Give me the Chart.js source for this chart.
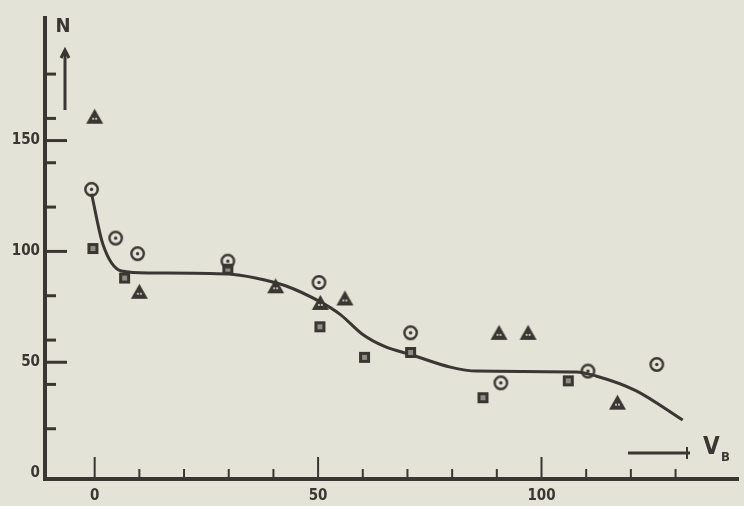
<!DOCTYPE html>
<html>
<head>
<meta charset="utf-8">
<script src="https://cdn.jsdelivr.net/npm/chart.js@4.4.1/dist/chart.umd.min.js"></script>
<style>
  html, body { margin: 0; padding: 0; background: #e3e3d7; }
  #wrap { width: 744px; height: 506px; }
</style>
</head>
<body>
<div id="wrap"><canvas id="chart" width="744" height="506"></canvas></div>
<script>
// valores
const triX = [0, 10, 40.5, 50.5, 56, 90.5, 97, 117];
const triY = [161, 82, 84.5, 77, 79, 63.5, 63.5, 32];

const circX = [-0.7, 4.7, 9.6, 29.8, 50.2, 70.7, 90.9, 110.4, 125.8];
const circY = [128, 106, 99, 95.6, 86, 63.3, 40.7, 46, 49];

const sqX = [-0.4, 6.7, 29.8, 50.4, 60.4, 70.7, 86.9, 106];
const sqY = [101.3, 88, 92, 66, 52.2, 54.4, 34, 41.6];

// curva ajustada (desenhada à mão no original)
const curveX = [-0.7, 1.8, 6, 12.2, 30, 36, 42.7, 50.7, 55, 60, 65, 70.7, 79.6, 85.6, 107.8, 112.2, 121.1, 131.6];
const curveY = [126, 103.5, 91.2, 90.3, 89.8, 88, 84.5, 77, 71.5, 62.5, 57, 53.5, 47.8, 46, 45.6, 43.8, 37.2, 23.9];

// marcas dos eixos
const xLabelTicks = [0, 50, 100];
const xMinorTicks = [10, 20, 30, 40, 60, 70, 80, 90, 110, 120, 130];
const yLabelTicks = [0, 50, 100, 150];
const yMinorTicks = [20, 40, 60, 80, 120, 140, 160, 180];

const INK = 'rgb(58,54,50)';
const PAPER = '#e3e3d7';

function pts(xs, ys) {
    return xs.map((x, i) => ({ x: x, y: ys[i] }));
}

// símbolos dos pontos
function makeTriangle() {
    const c = document.createElement('canvas');
    c.width = 19; c.height = 17;
    const g = c.getContext('2d');
    g.fillStyle = INK;
    g.beginPath();
    g.moveTo(9.5, 1); g.lineTo(18, 16); g.lineTo(1, 16);
    g.closePath(); g.fill();
    g.fillStyle = 'rgba(220,220,205,0.8)';
    g.fillRect(7, 10, 2, 2);
    g.fillRect(10, 10, 2, 2);
    return c;
}

function makeCircle() {
    const c = document.createElement('canvas');
    c.width = 17; c.height = 17;
    const g = c.getContext('2d');
    g.strokeStyle = INK;
    g.lineWidth = 2.4;
    g.beginPath(); g.arc(8.5, 8.5, 6.2, 0, Math.PI * 2); g.stroke();
    g.fillStyle = INK;
    g.beginPath(); g.arc(8.5, 8.5, 1.7, 0, Math.PI * 2); g.fill();
    return c;
}

function makeSquare() {
    const c = document.createElement('canvas');
    c.width = 13; c.height = 13;
    const g = c.getContext('2d');
    g.fillStyle = INK;
    g.fillRect(1, 1, 11, 11);
    g.fillStyle = 'rgba(200,200,185,0.6)';
    g.fillRect(4, 4, 5, 5);
    return c;
}

const axesPlugin = {
    id: 'axesPlugin',
    afterDraw(chart) {
        const ctx = chart.ctx;
        const xs = chart.scales.x;
        const ys = chart.scales.y;
        const area = chart.chartArea;
        const x0 = area.left - 2;
        const y0 = area.bottom;

        ctx.save();
        ctx.strokeStyle = INK;
        ctx.fillStyle = INK;
        ctx.lineCap = 'butt';

        // eixos
        ctx.lineWidth = 4;
        ctx.beginPath();
        ctx.moveTo(x0, area.top);
        ctx.lineTo(x0, y0 + 2);
        ctx.lineTo(area.right, y0 + 2);
        ctx.stroke();

        // marcas do eixo x
        ctx.lineWidth = 2;
        xLabelTicks.forEach(v => {
            const px = xs.getPixelForValue(v);
            ctx.beginPath(); ctx.moveTo(px, y0); ctx.lineTo(px, y0 - 20); ctx.stroke();
        });
        xMinorTicks.forEach(v => {
            const px = xs.getPixelForValue(v);
            ctx.beginPath(); ctx.moveTo(px, y0); ctx.lineTo(px, y0 - 8); ctx.stroke();
        });

        // marcas do eixo y
        ctx.lineWidth = 3;
        yLabelTicks.filter(v => v > 0).forEach(v => {
            const py = ys.getPixelForValue(v);
            ctx.beginPath(); ctx.moveTo(x0, py); ctx.lineTo(x0 + 22, py); ctx.stroke();
        });
        yMinorTicks.forEach(v => {
            const py = ys.getPixelForValue(v);
            ctx.beginPath(); ctx.moveTo(x0, py); ctx.lineTo(x0 + 11, py); ctx.stroke();
        });

        // seta e rótulo N
        ctx.lineWidth = 3;
        ctx.beginPath(); ctx.moveTo(65, 110); ctx.lineTo(65, 52); ctx.stroke();
        ctx.beginPath(); ctx.moveTo(61, 58); ctx.lineTo(65, 50); ctx.lineTo(69, 58); ctx.stroke();
        ctx.font = 'bold 20px "DejaVu Sans Condensed", "DejaVu Sans"';
        ctx.textAlign = 'center';
        ctx.textBaseline = 'middle';
        ctx.fillText('N', 63, 27);

        // seta e rótulo V_B
        ctx.lineWidth = 3;
        ctx.beginPath(); ctx.moveTo(628, 453); ctx.lineTo(690, 453); ctx.stroke();
        ctx.lineWidth = 2;
        ctx.beginPath(); ctx.moveTo(687, 447); ctx.lineTo(687, 459); ctx.stroke();
        ctx.font = 'bold 24px "DejaVu Sans Condensed", "DejaVu Sans"';
        ctx.textAlign = 'left';
        ctx.fillText('V', 703, 448);
        ctx.font = 'bold 13px "DejaVu Sans Condensed", "DejaVu Sans"';
        ctx.fillText('B', 721, 458);

        ctx.restore();
    }
};

const canvas = document.getElementById('chart');
const ctx = canvas.getContext('2d');

new Chart(ctx, {
    type: 'scatter',
    data: {
        datasets: [
            {
                label: 'curva',
                data: pts(curveX, curveY),
                showLine: true,
                borderColor: INK,
                borderWidth: 3,
                pointRadius: 0,
                cubicInterpolationMode: 'monotone',
                order: 4
            },
            {
                label: 'triângulos',
                data: pts(triX, triY),
                pointStyle: makeTriangle(),
                order: 1
            },
            {
                label: 'círculos',
                data: pts(circX, circY),
                pointStyle: makeCircle(),
                order: 2
            },
            {
                label: 'quadrados',
                data: pts(sqX, sqY),
                pointStyle: makeSquare(),
                order: 3
            }
        ]
    },
    options: {
        responsive: false,
        animation: false,
        devicePixelRatio: 1,
        layout: { padding: { top: 15, right: 0, left: 0, bottom: 0 } },
        plugins: {
            legend: { display: false },
            tooltip: { enabled: false }
        },
        scales: {
            x: {
                type: 'linear',
                min: -10.67,
                max: 144.2,
                grid: { display: false, drawTicks: false },
                border: { display: false },
                afterFit(scale) { scale.height = 29; },
                afterBuildTicks(scale) { scale.ticks = xLabelTicks.map(v => ({ value: v })); },
                ticks: {
                    padding: 10,
                    color: INK,
                    font: { family: '"DejaVu Sans Condensed", "DejaVu Sans"', size: 15, weight: 'bold' },
                    maxRotation: 0,
                    autoSkip: false
                }
            },
            y: {
                type: 'linear',
                min: -1.77,
                max: 206.2,
                grid: { display: false, drawTicks: false },
                border: { display: false },
                afterFit(scale) { scale.width = 47; },
                afterBuildTicks(scale) { scale.ticks = yLabelTicks.map(v => ({ value: v })); },
                ticks: {
                    padding: 7,
                    color: INK,
                    font: { family: '"DejaVu Sans Condensed", "DejaVu Sans"', size: 15, weight: 'bold' },
                    autoSkip: false
                }
            }
        }
    },
    plugins: [axesPlugin]
});
</script>
</body>
</html>
